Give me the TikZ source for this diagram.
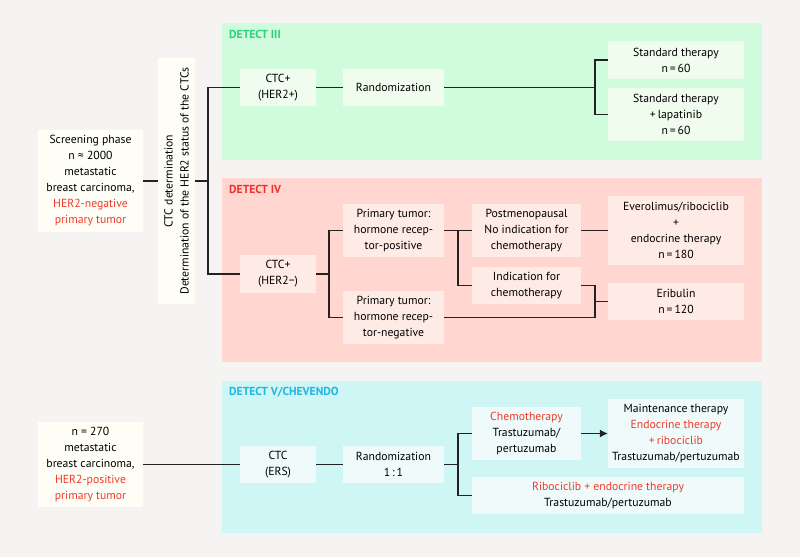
\documentclass[tikz,border=0pt]{standalone}
\usepackage{fontspec}
\setmainfont{PT Sans}
\usetikzlibrary{arrows.meta}
\definecolor{bgcol}{HTML}{F5F4F2}
\definecolor{greenpanel}{HTML}{D0FBDC}
\definecolor{greenbox}{HTML}{F0FCEE}
\definecolor{redpanel}{HTML}{FFD6D0}
\definecolor{redbox}{HTML}{FFEBE6}
\definecolor{cyanpanel}{HTML}{CDF6F4}
\definecolor{cyanbox}{HTML}{EEFBFA}
\definecolor{whitebox}{HTML}{FEFEF6}
\definecolor{greentitle}{HTML}{2DD27A}
\definecolor{redtitle}{HTML}{F0302A}
\definecolor{cyantitle}{HTML}{22B5E0}
\definecolor{redtext}{HTML}{F03A2A}
\definecolor{linecol}{HTML}{222222}
\newcommand{\redtxt}[1]{\textcolor{redtext}{#1}}
\begin{document}
\begin{tikzpicture}[x=1pt,y=-1pt,
  box/.style={inner sep=0pt, align=center, font=\fontsize{11.7}{16}\selectfont},
  wbox/.style={box, fill=whitebox},
  gbox/.style={box, fill=greenbox},
  rbox/.style={box, fill=redbox},
  cbox/.style={box, fill=cyanbox},
  title/.style={anchor=west, inner sep=0pt, font=\fontsize{11.6}{13}\selectfont\bfseries},
  link/.style={draw=linecol, line width=1.1pt}]
\fill[bgcol] (0,0) rectangle (800,557);
% panels
\fill[greenpanel] (222,23) rectangle (762,160);
\fill[redpanel] (222,178) rectangle (762,362);
\fill[cyanpanel] (222,381) rectangle (762,533);
\node[title, text=greentitle] (t3) at (229,34) {DETECT III};
\node[title, text=redtitle] (t4) at (229,189) {DETECT IV};
\node[title, text=cyantitle] (t5) at (229,392) {DETECT V/CHEVENDO};
% screening
\node[wbox, minimum width=105, minimum height=102] (screen) at (90.5,181) {Screening phase\\n ≈ 2000\\metastatic\\breast carcinoma,\\\redtxt{HER2-negative}\\\redtxt{primary tumor}};
\node[wbox, rotate=90, minimum width=246, minimum height=37] (ctcdet) at (176.5,181) {CTC determination\\Determination of the HER2 status of the CTCs};
\coordinate (j1) at (208,181);
\draw[link] (screen) -- (ctcdet);
\draw[link] (ctcdet) -- (j1);
% DETECT III
\node[gbox, minimum width=76, minimum height=37] (ctc3) at (278,87.5) {CTC+\\(HER2+)};
\node[gbox, minimum width=101, minimum height=37] (rand3) at (393.5,87.5) {Randomization};
\node[gbox, minimum width=136, minimum height=38] (std) at (676,60) {Standard therapy\\n\,=\,60};
\node[gbox, minimum width=136, minimum height=53] (lap) at (676,114.5) {Standard therapy\\+\,lapatinib\\n\,=\,60};
\coordinate (j3) at (595,87.5);
\draw[link] (ctc3) -- (rand3);
\draw[link] (rand3) -- (j3);
\draw[link] (std) -| (j3) |- (lap);
% DETECT IV
\node[rbox, minimum width=76, minimum height=38] (ctc4) at (278,274) {CTC+\\(HER2−)};
\node[rbox, minimum width=101, minimum height=53] (hrpos) at (393.5,230.5) {Primary tumor:\\hormone recep-\\tor-positive};
\node[rbox, minimum width=101, minimum height=53] (hrneg) at (393.5,317.5) {Primary tumor:\\hormone recep-\\tor-negative};
\node[rbox, minimum width=109, minimum height=53] (post) at (526.5,230.5) {Postmenopausal\\No indication for\\chemotherapy};
\node[rbox, minimum width=109, minimum height=37] (indic) at (526.5,285.5) {Indication for\\chemotherapy};
\node[rbox, minimum width=136, minimum height=69] (evero) at (676,230.5) {Everolimus/ribociclib\\+\\endocrine therapy\\n\,=\,180};
\node[rbox, minimum width=136, minimum height=37] (erib) at (676,301.5) {Eribulin\\n\,=\,120};
\coordinate (j4) at (329,274);
\coordinate (j5) at (458,230.5);
\coordinate (j6) at (595,301.5);
\draw[link] (ctc3) -| (j1) |- (ctc4);
\draw[link] (ctc4) -- (j4);
\draw[link] (hrpos) -| (j4) |- (hrneg);
\draw[link] (hrpos) -- (post);
\draw[link] (j5) |- (indic);
\draw[link] (post) -- (evero);
\draw[link] (indic) -| (j6);
\draw[link] (hrneg) -| (j6);
\draw[link] (j6) -- (erib);
% DETECT V
\node[wbox, minimum width=105, minimum height=85] (screen5) at (90.5,464.5) {n = 270\\metastatic\\breast carcinoma,\\\redtxt{HER2-positive}\\\redtxt{primary tumor}};
\node[cbox, minimum width=76, minimum height=37] (ctc5) at (278,464.5) {CTC\\(ERS)};
\node[cbox, minimum width=101, minimum height=37] (rand5) at (393.5,464.5) {Randomization\\1\,:\,1};
\node[cbox, minimum width=109, minimum height=53] (chemo) at (526.5,433.5) {\redtxt{Chemotherapy}\\Trastuzumab/\\pertuzumab};
\node[cbox, minimum width=136, minimum height=69] (maint) at (676,433.5) {Maintenance therapy\\\redtxt{Endocrine therapy}\\\redtxt{+\,ribociclib}\\Trastuzumab/pertuzumab};
\node[cbox, minimum width=272, minimum height=37] (ribo) at (608,495.5) {\redtxt{Ribociclib + endocrine therapy}\\Trastuzumab/pertuzumab};
\coordinate (j7) at (458,464.5);
\draw[link] (screen5) -- (ctc5);
\draw[link] (ctc5) -- (rand5);
\draw[link] (rand5) -- (j7);
\draw[link] (chemo) -| (j7) |- (ribo);
\draw[link, -{Latex[length=8pt,width=8pt]}] (chemo) -- (maint);
\end{tikzpicture}
\end{document}
